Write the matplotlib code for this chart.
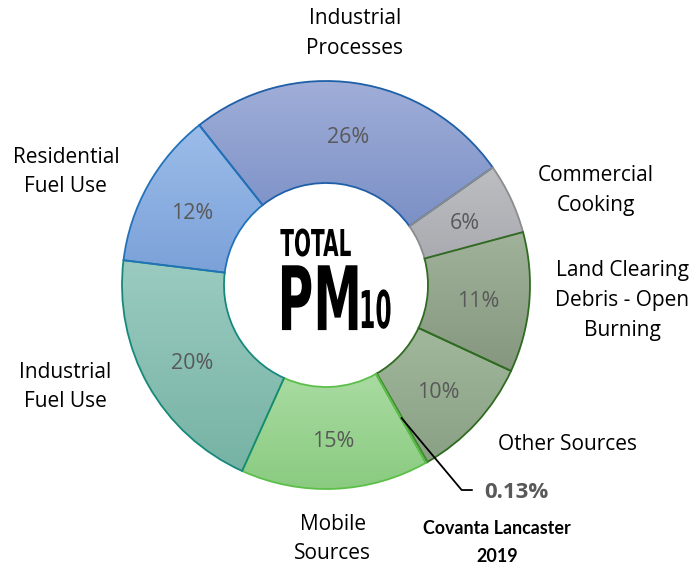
"""Doughnut chart of total PM10 emissions by source category."""

import matplotlib

matplotlib.use("Agg")

import matplotlib.pyplot as plt
import numpy as np
from matplotlib.colors import LinearSegmentedColormap
from matplotlib.patheffects import AbstractPathEffect
from matplotlib.transforms import Affine2D, Bbox

# clockwise from the top-left boundary
sources = [
    "Industrial\nProcesses",
    "Commercial\nCooking",
    "Land Clearing\nDebris - Open\nBurning",
    "Other Sources",
    "Covanta Lancaster\n2019",
    "Mobile\nSources",
    "Industrial\nFuel Use",
    "Residential\nFuel Use",
]
shares = [25.9, 5.6, 11.1, 9.8, 0.13, 14.9, 20.2, 12.4]

# (top, bottom) gradient colour and edge colour for each slice
top_colors = ["#a0aed8", "#bcbec2", "#a0b29a", "#a2b89d", "#4a8a3a", "#a9dba2", "#9bcbc0", "#9cbde9"]
bottom_colors = ["#7b90c6", "#a9abb0", "#85977e", "#8aa084", "#2f6b21", "#8acb80", "#76b3a5", "#7ba1d9"]
edge_colors = ["#1f5fa8", "#8c8c8c", "#2f6b21", "#2f6b21", "#3f8f2f", "#5cbf4a", "#16897a", "#2272b9"]

# label anchor points in pie radius units (centre at 0, 0)
label_pos = [
    (0.142, 1.232),
    (1.324, 0.465),
    (1.451, -0.077),
    (1.186, -0.780),
    (0.838, -1.262),
    (0.034, -1.245),
    (-1.279, -0.500),
    (-1.275, 0.554),
]


class Squeeze(AbstractPathEffect):
    """Narrow the glyphs of a text horizontally about its anchor point."""

    def __init__(self, text, sx):
        super().__init__()
        self.text = text
        self.sx = sx

    def draw_path(self, renderer, gc, tpath, affine, rgbFace=None):
        x0, y0 = self.text.get_transform().transform(self.text.get_position())
        squeeze = Affine2D().translate(-x0, -y0).scale(self.sx, 1).translate(x0, y0)
        renderer.draw_path(gc, tpath, affine + squeeze, rgbFace)


def squeeze_text(t, sx):
    """Apply the squeeze to a text and keep its reported extent in step."""
    t.set_path_effects([Squeeze(t, sx)])
    full_extent = t.get_window_extent

    def narrow_extent(renderer=None, dpi=None):
        bb = full_extent(renderer, dpi)
        x0 = t.get_transform().transform(t.get_position())[0]
        return Bbox([[x0 + (bb.x0 - x0) * sx, bb.y0], [x0 + (bb.x1 - x0) * sx, bb.y1]])

    t.get_window_extent = narrow_extent


plt.rcParams["font.family"] = ["Open Sans", "DejaVu Sans"]

fig = plt.figure(figsize=(6.96, 5.68), dpi=100)
ax = fig.add_axes([122 / 696, 79 / 568, 408 / 696, 408 / 568])
ax.set_aspect("equal")
ax.axis("off")

wedges, _ = ax.pie(
    shares,
    startangle=128.4,
    counterclock=False,
    radius=1.0,
    wedgeprops=dict(width=0.5, linewidth=1.3),
)

for wedge, top, bottom, edge in zip(wedges, top_colors, bottom_colors, edge_colors):
    wedge.set_facecolor("none")
    wedge.set_edgecolor(edge)
    wedge.set_zorder(2)
    t1, t2 = sorted([wedge.theta1, wedge.theta2])
    angles = np.radians(np.linspace(t1, t2, 100))
    ys = np.concatenate([np.sin(angles), 0.5 * np.sin(angles)])
    xs = np.concatenate([np.cos(angles), 0.5 * np.cos(angles)])
    cmap = LinearSegmentedColormap.from_list("g", [bottom, top])
    grad = np.linspace(0, 1, 256).reshape(-1, 1)
    img = ax.imshow(
        grad,
        cmap=cmap,
        origin="lower",
        extent=[xs.min(), xs.max(), ys.min(), ys.max()],
        aspect="auto",
        zorder=1,
    )
    img.set_clip_path(wedge)

ax.set_xlim(-1, 1)
ax.set_ylim(-1, 1)

# percentage labels inside the ring
for wedge, value in zip(wedges, shares):
    if value < 1:
        continue
    mid = np.radians((wedge.theta1 + wedge.theta2) / 2)
    ax.text(0.75 * np.cos(mid), 0.75 * np.sin(mid) - 0.018, f"{value:.0f}%",
            ha="center", va="center", fontsize=15.5, color="#595959", zorder=3)

# category labels around the ring
for name, (x, y) in zip(sources, label_pos):
    if "Covanta" in name:
        ax.text(x, y, name, ha="center", va="center", fontsize=12.9,
                fontweight="bold", family=["Lato", "DejaVu Sans"], color="black",
                linespacing=1.75, clip_on=False)
    else:
        ax.text(x, y, name, ha="center", va="center", fontsize=15,
                color="black", linespacing=1.55, clip_on=False)

# leader line for the tiny Covanta slice
cov = wedges[sources.index("Covanta Lancaster\n2019")]
cmid = np.radians((cov.theta1 + cov.theta2) / 2)
start = (0.75 * np.cos(cmid), 0.75 * np.sin(cmid))
elbow = (0.665, -1.005)
ax.plot([start[0], elbow[0], elbow[0] + 0.05], [start[1], elbow[1], elbow[1]],
        color="black", linewidth=1.3, clip_on=False, zorder=3)
ax.text(0.775, elbow[1] - 0.01, f"{shares[4]:.2f}%", ha="left", va="center",
        fontsize=16, fontweight="bold", color="#595959", clip_on=False)

# centre title, narrowed to look like a condensed display face
title_parts = [
    ("TOTAL", -0.224, 0.142, 26.7, 0.54, "left"),
    ("PM", 0.176, -0.221, 64, 0.55, "right"),
    ("10", 0.162, -0.211, 37.5, 0.45, "left"),
]
for word, x, y, size, sx, align in title_parts:
    t = ax.text(x, y, word, ha=align, va="baseline", fontsize=size,
                fontweight="bold", family="DejaVu Sans", color="black", zorder=4)
    squeeze_text(t, sx)

fig.savefig("out.png", dpi=100)
